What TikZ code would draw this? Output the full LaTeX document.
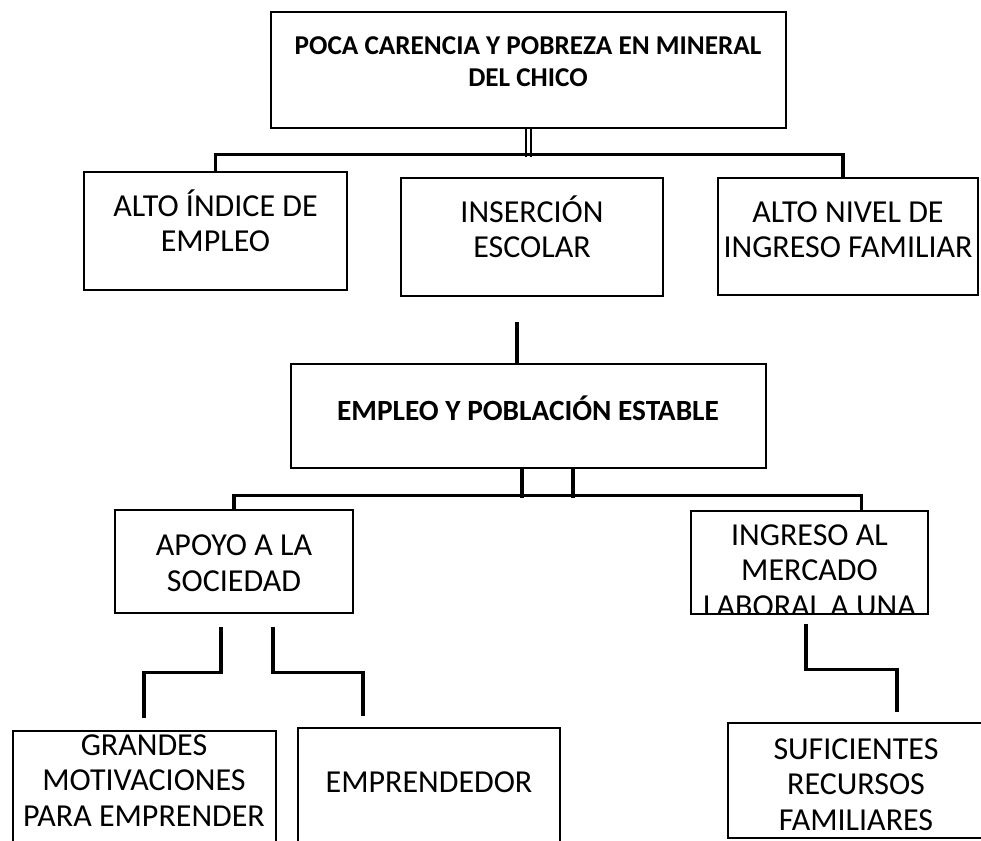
\documentclass[tikz,border=0pt]{standalone}
\usepackage{fontspec}
\setmainfont{Carlito}
\usetikzlibrary{positioning,fit}

\begin{document}
\begin{tikzpicture}[
      x=0.75pt, y=-0.75pt,
      box/.style={draw=black, line width=2pt, inner sep=0pt},
      wire/.style={line width=2.7pt, draw=black},
      dwire/.style={line width=1.5pt, draw=black},
      txt/.style={font=\fontsize{24}{26.5}\selectfont, align=center, anchor=base, inner sep=0pt},
      head/.style={font=\fontsize{20.4}{24}\selectfont\bfseries, align=center, anchor=base, inner sep=0pt},
    ]

    \useasboundingbox (0,0) rectangle (981,841);
    \fill[white] (0,0) rectangle (981,841);
    \clip (0,0) rectangle (981,841);

    % -------------------------------------------------------
    %  Upper level
    % -------------------------------------------------------
    \node[box, fit={(271,12) (786,128)}] (top) {};
    \node[head] (top-t) at (528,87) {POCA CARENCIA Y POBREZA EN MINERAL\\DEL CHICO};

    \node[box, fit={(84,172) (347,290)}] (alto) {};
    \node[txt] (alto-t) at (215.5,252) {ALTO ÍNDICE DE\\EMPLEO};

    \node[box, fit={(401,178) (663,296)}] (insercion) {};
    \node[txt] (insercion-t) at (532,258) {INSERCIÓN\\ESCOLAR};

    \node[box, fit={(718,178) (978,295)}] (nivel) {};
    \node[txt] (nivel-t) at (848,258) {ALTO NIVEL DE\\INGRESO FAMILIAR};

    % double stem and bus
    \draw[dwire] ([xshift=-2pt]top.south) -- ++(0,28);
    \draw[dwire] ([xshift=2pt]top.south) -- ++(0,28);
    \draw[wire] (alto.north) -- ++(0,-16) -| ([xshift=-3.75pt]nivel.north);

    % -------------------------------------------------------
    %  Middle level
    % -------------------------------------------------------
    \node[box, fit={(291,364) (766,468)}] (empleo) {};
    \node[head, font=\fontsize{22}{24}\selectfont\bfseries] (empleo-t) at (528,420) {EMPLEO Y POBLACIÓN ESTABLE};
    \draw[wire] ([xshift=-8.6pt]empleo.north) -- ++(0,-41);

    \node[box, fit={(115,510) (353,613)}] (apoyo) {};
    \node[txt] (apoyo-t) at (234,591) {APOYO A LA\\SOCIEDAD};

    \node[box, fit={(691,511) (928,614)}] (ingreso) {};
    \begin{scope}
      \clip (692,512) rectangle (927,612.5);
      \node[txt] (ingreso-t) at (809.5,616) {INGRESO AL\\MERCADO\\LABORAL A UNA};
    \end{scope}

    \draw[wire] ([xshift=-4.9pt]empleo.south) -- ++(0,29);
    \draw[wire] ([xshift=33.4pt]empleo.south) -- ++(0,29);
    \draw[wire] (apoyo.north) -- ++(0,-13) -| ([xshift=39pt]ingreso.north);

    % -------------------------------------------------------
    %  Lower level
    % -------------------------------------------------------
    \node[box, fit={(13,731) (276,860)}] (grandes) {};
    \node[txt] (grandes-t) at (144,826) {GRANDES\\MOTIVACIONES\\PARA EMPRENDER};

    \node[box, fit={(298,728) (560,860)}] (emprendedor) {};
    \node[txt] (emprendedor-t) at (429,792) {EMPRENDEDOR};

    \node[box, fit={(728,723) (990,838)}] (suficientes) {};
    \node[txt] (suficientes-t) at (856,830) {SUFICIENTES\\RECURSOS\\FAMILIARES};

    % stepped stems, loose at both ends
    \draw[wire] ([shift={(-13,13)}]apoyo.south) -- ++(0,45) -- ++(-77,0) -- ++(0,46);
    \draw[wire] ([shift={(39,13)}]apoyo.south) -- ++(0,45) -- ++(90,0) -- ++(0,44);
    \draw[wire] ([shift={(-3.5,9)}]ingreso.south) -- ++(0,45) -- ++(91,0) -- ++(0,43);

  \end{tikzpicture}
\end{document}
